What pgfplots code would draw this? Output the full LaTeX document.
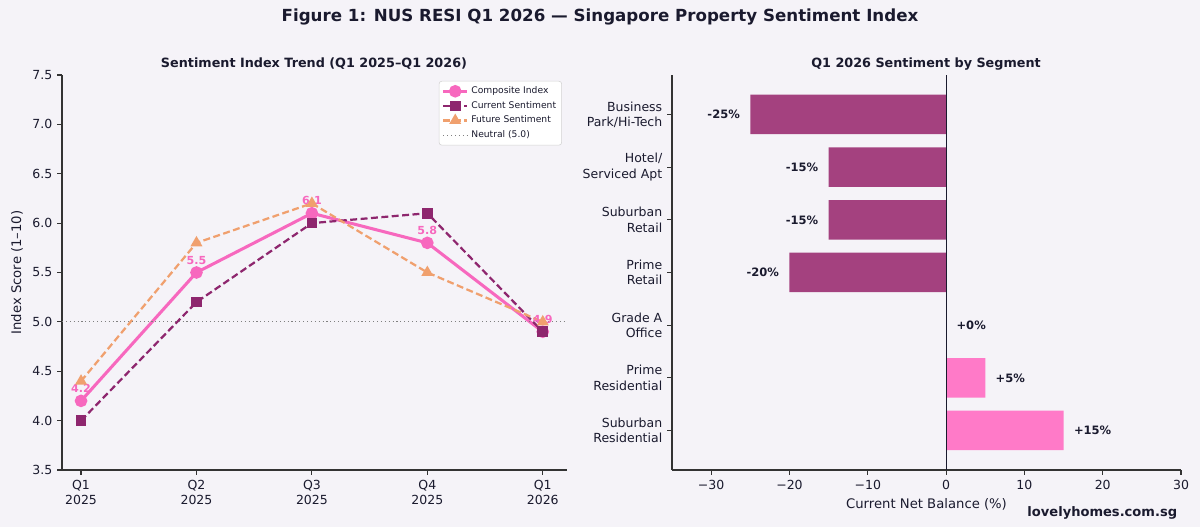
\documentclass[border=0pt]{standalone}
\usepackage{fontspec}
\setmainfont{DejaVu Sans}
\usepackage{pgfplots}
\usepackage{pgfplotstable}
\pgfplotsset{compat=1.18}
\definecolor{bgc}{RGB}{245,243,248}
\definecolor{txt}{RGB}{26,26,46}
\definecolor{comp}{RGB}{247,104,190}
\definecolor{curr}{RGB}{142,38,110}
\definecolor{fut}{RGB}{240,160,110}
\definecolor{negb}{RGB}{164,65,127}
\definecolor{posb}{RGB}{255,122,200}
\definecolor{spine}{RGB}{51,51,51}

\pgfplotstableread{
q comp curr fut
0 4.2 4.0 4.4
1 5.5 5.2 5.8
2 6.1 6.0 6.2
3 5.8 6.1 5.5
4 4.9 4.9 5.0
}\trend

\pgfplotstableread{
i v lab
3 -20 -20
4 -15 -15
5 -15 -15
6 -25 -25
}\negdata

\pgfplotstableread{
i v lab
0 15 +15
1 5 +5
2 0 +0
}\posdata

\begin{document}
\begin{tikzpicture}[x=0.72pt,y=0.72pt]
\fill[bgc] (0,0) rectangle (1200,527);

\node[font=\fontsize{12}{14}\selectfont\bfseries, text=txt] at (600,510) {Figure 1: NUS RESI Q1 2026 — Singapore Property Sentiment Index};
\node[font=\fontsize{9.2}{11}\selectfont\bfseries, text=txt] at (314,463) {Sentiment Index Trend (Q1 2025–Q1 2026)};
\node[font=\fontsize{9.2}{11}\selectfont\bfseries, text=txt] at (926,463) {Q1 2026 Sentiment by Segment};
\node[font=\fontsize{9.4}{11}\selectfont\bfseries, text=txt, anchor=east] at (1182,14) {lovelyhomes.com.sg};

\begin{axis}[
  at={(62pt*0.72,57pt*0.72)}, anchor=south west,
  width=363.6pt, height=284.4pt, scale only axis,
  xmin=-0.165, xmax=4.21, ymin=3.5, ymax=7.5,
  axis x line*=bottom, axis y line*=left,
  axis line style={spine, line width=0.8pt},
  tick align=outside, major tick length=3.5pt,
  tick style={spine, line width=0.8pt},
  xtick={0,1,2,3,4},
  xticklabels={Q1\\2025,Q2\\2025,Q3\\2025,Q4\\2025,Q1\\2026},
  xticklabel style={align=center, font=\fontsize{9}{11}\selectfont, text=txt},
  ytick={3.5,4.0,4.5,5.0,5.5,6.0,6.5,7.0,7.5},
  yticklabels={3.5,4.0,4.5,5.0,5.5,6.0,6.5,7.0,7.5},
  yticklabel style={font=\fontsize{9}{11}\selectfont, text=txt},
  ylabel={Index Score (1–10)},
  ylabel style={font=\fontsize{9.5}{11}\selectfont, text=txt},
  legend style={at={(0.99,0.985)}, anchor=north east, font=\fontsize{6.6}{8}\selectfont,
    draw={rgb,255:red,210;green,210;blue,210}, fill=white, rounded corners=2pt,
    text=txt, inner sep=2pt},
  legend cell align=left,
  clip=false,
]
\addplot[comp, line width=2.2pt, mark=*, mark size=3.4pt, mark options={solid},
  nodes near coords={\pgfmathprintnumber[fixed,fixed zerofill,precision=1,assume math mode=true]{\pgfplotspointmeta}},
  every node near coord/.append style={font=\fontsize{8}{10}\selectfont\bfseries, text=comp, anchor=south, yshift=1.5pt}]
  table[x=q, y=comp] {\trend};
\addlegendentry{Composite Index}
\addplot[curr, line width=1.6pt, dash pattern=on 5pt off 2.5pt, mark=square*, mark size=3pt, mark options={solid}]
  table[x=q, y=curr] {\trend};
\addlegendentry{Current Sentiment}
\addplot[fut, line width=1.6pt, dash pattern=on 5pt off 2.5pt, mark=triangle*, mark size=3.4pt, mark options={solid}]
  table[x=q, y=fut] {\trend};
\addlegendentry{Future Sentiment}
\addplot[gray, line width=0.8pt, dotted] coordinates {(-0.165,5) (4.21,5)};
\addlegendentry{Neutral (5.0)}
\end{axis}

\begin{axis}[
  at={(672pt*0.72,57pt*0.72)}, anchor=south west,
  width=366.5pt, height=284.4pt, scale only axis,
  xmin=-35, xmax=30, ymin=-0.75, ymax=6.75,
  axis x line*=bottom, axis y line*=left,
  axis line style={spine, line width=0.8pt},
  tick align=outside, major tick length=3.5pt,
  tick style={spine, line width=0.8pt},
  xtick={-30,-20,-10,0,10,20,30},
  xticklabels={−30,−20,−10,0,10,20,30},
  xticklabel style={font=\fontsize{9}{11}\selectfont, text=txt},
  ytick={0,1,2,3,4,5,6},
  yticklabels={Suburban\\Residential,Prime\\Residential,Grade A\\Office,Prime\\Retail,Suburban\\Retail,Hotel/\\Serviced Apt,Business\\Park/Hi-Tech},
  yticklabel style={align=right, font=\fontsize{9}{11}\selectfont, text=txt},
  xlabel={Current Net Balance (\%)},
  xlabel style={font=\fontsize{9.5}{11}\selectfont, text=txt},
  clip=false,
]
\addplot[xbar, bar width=0.75, bar shift=0pt, fill=negb, draw=none,
  point meta=explicit symbolic,
  nodes near coords={\pgfplotspointmeta\%},
  every node near coord/.append style={font=\fontsize{8.3}{10}\selectfont\bfseries, text=txt, anchor=east, xshift=-4pt}]
  table[x=v, y=i, meta=lab] {\negdata};
\addplot[xbar, bar width=0.75, bar shift=0pt, fill=posb, draw=none,
  point meta=explicit symbolic,
  nodes near coords={\pgfplotspointmeta\%},
  every node near coord/.append style={font=\fontsize{8.3}{10}\selectfont\bfseries, text=txt, anchor=west, xshift=4pt}]
  table[x=v, y=i, meta=lab] {\posdata};
\addplot[txt, line width=0.8pt] coordinates {(0,-0.75) (0,6.75)};
\end{axis}
\pgfresetboundingbox
\useasboundingbox (0,0) rectangle (1200,527);
\end{tikzpicture}
\end{document}
